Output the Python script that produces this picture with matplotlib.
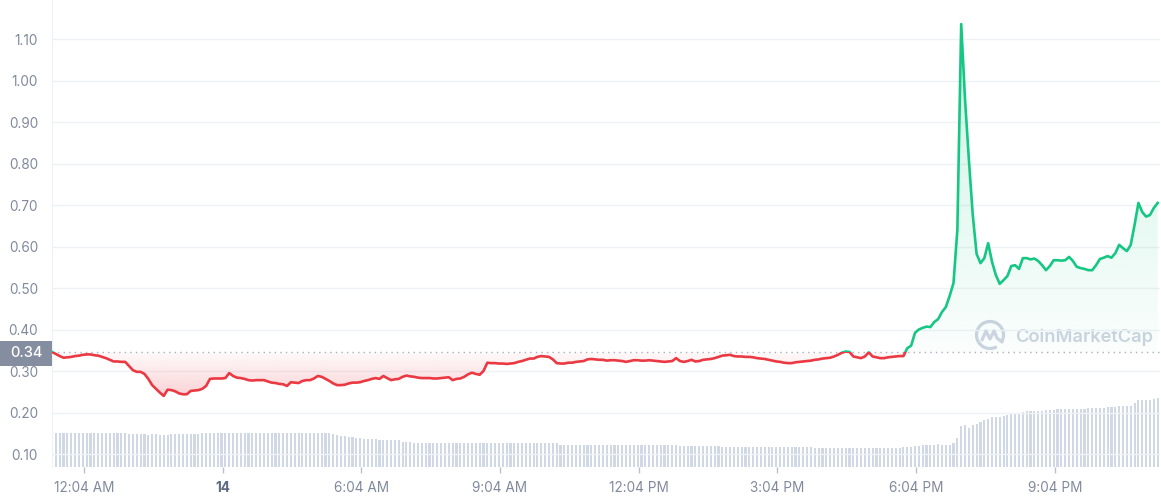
import numpy as np
import pandas as pd
import matplotlib as mpl

mpl.use('Agg')
import matplotlib.pyplot as plt
import matplotlib.dates as mdates
from matplotlib.patches import Rectangle, Arc
from matplotlib.lines import Line2D
from matplotlib.path import Path
from matplotlib.transforms import blended_transform_factory

# 5 minute samples, starting the evening before
start = '2022-06-13 23:22:30'
open_price = 0.345

price = [
    0.346, 0.341, 0.336, 0.332, 0.333, 0.334, 0.336, 0.337, 0.339, 0.340, 0.340, 0.338,
    0.337, 0.334, 0.331, 0.327, 0.323, 0.323, 0.322, 0.322, 0.312, 0.302, 0.298, 0.298,
    0.293, 0.281, 0.266, 0.257, 0.248, 0.240, 0.255, 0.254, 0.251, 0.246, 0.244, 0.244,
    0.252, 0.253, 0.254, 0.257, 0.264, 0.281, 0.282, 0.282, 0.282, 0.283, 0.295, 0.288,
    0.284, 0.283, 0.281, 0.278, 0.277, 0.278, 0.278, 0.278, 0.275, 0.272, 0.271, 0.269,
    0.268, 0.264, 0.273, 0.272, 0.271, 0.276, 0.278, 0.278, 0.282, 0.288, 0.286, 0.281,
    0.276, 0.270, 0.266, 0.266, 0.267, 0.270, 0.272, 0.272, 0.273, 0.276, 0.278, 0.281,
    0.283, 0.281, 0.288, 0.283, 0.278, 0.280, 0.281, 0.286, 0.289, 0.287, 0.286, 0.284,
    0.283, 0.283, 0.283, 0.282, 0.282, 0.283, 0.284, 0.285, 0.278, 0.281, 0.282, 0.286,
    0.292, 0.296, 0.293, 0.291, 0.300, 0.320, 0.319, 0.319, 0.318, 0.318, 0.317, 0.318,
    0.319, 0.322, 0.324, 0.327, 0.330, 0.330, 0.334, 0.336, 0.335, 0.334, 0.328, 0.319,
    0.318, 0.318, 0.320, 0.320, 0.322, 0.323, 0.324, 0.328, 0.329, 0.328, 0.327, 0.327,
    0.325, 0.326, 0.326, 0.325, 0.324, 0.322, 0.324, 0.326, 0.326, 0.325, 0.325, 0.326,
    0.325, 0.324, 0.323, 0.322, 0.323, 0.324, 0.331, 0.324, 0.322, 0.324, 0.327, 0.323,
    0.324, 0.327, 0.328, 0.329, 0.331, 0.334, 0.337, 0.338, 0.339, 0.336, 0.335, 0.335,
    0.334, 0.334, 0.333, 0.331, 0.330, 0.329, 0.327, 0.325, 0.323, 0.322, 0.320, 0.319,
    0.319, 0.321, 0.322, 0.323, 0.324, 0.325, 0.327, 0.328, 0.330, 0.331, 0.332, 0.335,
    0.339, 0.344, 0.347, 0.346, 0.335, 0.333, 0.331, 0.335, 0.345, 0.335, 0.333, 0.331,
    0.331, 0.333, 0.334, 0.335, 0.336, 0.336, 0.355, 0.361, 0.392, 0.400, 0.404, 0.407,
    0.406, 0.418, 0.425, 0.442, 0.454, 0.481, 0.512, 0.640, 1.136, 0.953, 0.808, 0.676,
    0.582, 0.560, 0.572, 0.608, 0.563, 0.531, 0.510, 0.519, 0.529, 0.553, 0.555, 0.546,
    0.572, 0.572, 0.569, 0.571, 0.565, 0.555, 0.543, 0.553, 0.567, 0.567, 0.566, 0.567,
    0.575, 0.565, 0.551, 0.548, 0.546, 0.543, 0.543, 0.555, 0.570, 0.573, 0.577, 0.573,
    0.584, 0.604, 0.596, 0.589, 0.604, 0.652, 0.705, 0.683, 0.672, 0.676, 0.693, 0.705,
]

# volume, millions USD
volume = [
    3.37, 3.37, 3.36, 3.37, 3.37, 3.37, 3.36, 3.37, 3.37, 3.37, 3.37, 3.36,
    3.37, 3.37, 3.37, 3.36, 3.37, 3.37, 3.37, 3.37, 3.27, 3.27, 3.27, 3.27,
    3.27, 3.17, 3.27, 3.27, 3.24, 3.17, 3.20, 3.27, 3.27, 3.27, 3.27, 3.27,
    3.27, 3.27, 3.27, 3.37, 3.37, 3.37, 3.37, 3.40, 3.40, 3.37, 3.37, 3.40,
    3.40, 3.37, 3.37, 3.37, 3.37, 3.37, 3.37, 3.37, 3.37, 3.37, 3.37, 3.37,
    3.37, 3.37, 3.37, 3.37, 3.37, 3.37, 3.37, 3.37, 3.37, 3.37, 3.37, 3.37,
    3.37, 3.33, 3.25, 3.15, 3.07, 3.03, 2.97, 2.90, 2.87, 2.80, 2.80, 2.80,
    2.80, 2.72, 2.72, 2.72, 2.70, 2.70, 2.70, 2.55, 2.55, 2.55, 2.43, 2.43,
    2.43, 2.43, 2.43, 2.43, 2.43, 2.43, 2.43, 2.43, 2.43, 2.43, 2.43, 2.43,
    2.43, 2.43, 2.43, 2.43, 2.43, 2.43, 2.43, 2.45, 2.43, 2.37, 2.37, 2.37,
    2.37, 2.37, 2.37, 2.37, 2.37, 2.37, 2.37, 2.37, 2.37, 2.37, 2.37, 2.37,
    2.23, 2.23, 2.23, 2.23, 2.23, 2.23, 2.23, 2.23, 2.23, 2.23, 2.23, 2.23,
    2.23, 2.23, 2.23, 2.23, 2.23, 2.23, 2.23, 2.23, 2.23, 2.23, 2.23, 2.23,
    2.23, 2.23, 2.23, 2.23, 2.23, 2.23, 2.23, 2.13, 2.13, 2.13, 2.13, 2.13,
    2.13, 2.13, 2.13, 2.13, 2.13, 2.13, 2.03, 2.03, 2.03, 2.03, 2.03, 2.03,
    2.03, 2.03, 2.03, 2.03, 2.03, 2.03, 2.00, 2.00, 2.00, 2.00, 2.00, 2.00,
    2.00, 2.00, 2.00, 2.00, 2.00, 2.00, 1.95, 1.95, 1.95, 1.95, 1.95, 1.95,
    1.95, 1.95, 1.95, 1.95, 1.95, 1.95, 1.95, 1.95, 1.95, 1.95, 1.95, 1.95,
    1.95, 1.95, 1.95, 1.95, 1.95, 1.97, 2.00, 2.03, 2.10, 2.13, 2.17, 2.20,
    2.23, 2.23, 2.27, 2.23, 2.23, 2.23, 2.37, 2.87, 4.10, 4.17, 3.93, 4.17,
    4.27, 4.47, 4.67, 4.83, 4.97, 4.97, 4.97, 5.07, 5.20, 5.30, 5.43, 5.43,
    5.53, 5.63, 5.63, 5.63, 5.63, 5.63, 5.73, 5.73, 5.73, 5.83, 5.83, 5.83,
    5.83, 5.83, 5.83, 5.83, 5.83, 5.93, 5.93, 5.93, 5.93, 5.93, 6.03, 6.03,
    6.03, 6.13, 6.13, 6.13, 6.13, 6.37, 6.70, 6.70, 6.70, 6.70, 6.80, 6.93,
]

y_ticks = [0.10, 0.20, 0.30, 0.40, 0.50, 0.60, 0.70, 0.80, 0.90, 1.00, 1.10]
x_tick_times = ['2022-06-14 00:04', '2022-06-14 03:04', '2022-06-14 06:04',
                '2022-06-14 09:04', '2022-06-14 12:04', '2022-06-14 15:04',
                '2022-06-14 18:04', '2022-06-14 21:04']
x_tick_labels = ['12:04 AM', '14', '6:04 AM', '9:04 AM', '12:04 PM',
                 '3:04 PM', '6:04 PM', '9:04 PM']

RED = '#ea3943'
GREEN = '#16c784'
GREY = '#808a9d'
LIGHT = '#eff2f5'
VOL = '#d1d8e5'

plt.rcParams['font.family'] = ['Inter', 'DejaVu Sans']

times = pd.date_range(start, periods=len(price), freq='5min')
t = mdates.date2num(times)
p = np.array(price)
step = 5 / 1440.0
x_end = mdates.date2num(times[-1] + pd.Timedelta(minutes=3))

fig = plt.figure(figsize=(11.61, 5.0), dpi=100)
ax = fig.add_axes([52 / 1161, 33 / 500, 1108 / 1161, 467 / 500])
vax = ax.twinx()
ax.set_zorder(vax.get_zorder() + 1)
ax.patch.set_visible(False)

# volume bars
vax.bar(t, volume, width=step * 0.55, color=VOL, linewidth=0)
vax.set_ylim(0, 46.7)
vax.set_yticks([])
for s in vax.spines.values():
    s.set_visible(False)


def gradient_fill(x, y, where, color, y0, y1, a0, a1):
    poly = ax.fill_between(x, y, open_price, where=where, interpolate=True,
                           facecolor='none', edgecolor='none')
    path = Path.make_compound_path(*poly.get_paths())
    rgba = np.zeros((200, 1, 4))
    rgba[..., :3] = mpl.colors.to_rgb(color)
    rgba[:, 0, 3] = np.linspace(a0, a1, 200)
    im = ax.imshow(rgba, extent=[x[0], x[-1], y0, y1], aspect='auto',
                   origin='lower', zorder=1, interpolation='bilinear')
    im.set_clip_path(path, ax.transData)


gradient_fill(t, p, p >= open_price, GREEN, open_price, p.max(), 0.02, 0.22)
gradient_fill(t, p, p <= open_price, RED, p.min(), open_price, 0.22, 0.03)

# price line, green above the open and red below
for color, y0 in [(GREEN, open_price), (RED, open_price - 5)]:
    line, = ax.plot(t, p, color=color, lw=1.9, zorder=3, solid_joinstyle='round')
    clip = Rectangle((t[0] - 1, y0), 3, 5, transform=ax.transData)
    line.set_clip_path(clip)

ax.axhline(open_price, color='#a6b0c3', lw=1, ls=(0, (1, 3)), zorder=2)

# axes
ax.set_xlim(t[0], x_end)
ax.set_ylim(0.0687, 1.194)
ax.set_yticks(y_ticks)
ax.set_yticklabels(['%.2f' % v for v in y_ticks])
ax.set_xticks(mdates.date2num(pd.to_datetime(x_tick_times)))
ax.set_xticklabels(x_tick_labels)
ax.yaxis.grid(True, color=LIGHT, lw=1)
ax.set_axisbelow(True)
ax.tick_params(axis='y', length=0, pad=10, labelcolor=GREY, labelsize=9.8)
ax.tick_params(axis='x', length=4, width=1, color='#b8c0cf', pad=6,
               labelcolor=GREY, labelsize=9.8)
for s in ['top', 'right', 'bottom']:
    ax.spines[s].set_visible(False)
ax.spines['left'].set_color(LIGHT)
lbl = ax.get_xticklabels()[1]
lbl.set_fontweight('bold')
lbl.set_color('#5d6a80')

# open price tag on the y axis
tr = blended_transform_factory(fig.transFigure, ax.transData)
ax.add_patch(Rectangle((0, 0.312), 52 / 1161, 0.061, transform=tr,
                       facecolor='#858ea0', edgecolor='none', clip_on=False, zorder=5))
ax.text(26 / 1161, 0.3425, '0.34', transform=tr, ha='center', va='center',
        color='white', fontsize=10.5, fontweight='medium', zorder=6, clip_on=False)

# watermark
WM = '#cdd4e1'
fig.text(1015 / 1161, 1 - 337 / 500, 'CoinMarketCap', ha='left', va='center',
         fontsize=13.2, fontweight='semibold', color=WM, zorder=0)
fig.add_artist(Arc((9.90, 1.65), 0.27, 0.27, theta1=330, theta2=660,
                   transform=fig.dpi_scale_trans, color=WM, lw=2.3))
wx = [-8, -4, 0, 4, 7, 12]
wy = [5, -4, 4, -4, 3, 7]
fig.add_artist(Line2D([(990 + a) / 100 for a in wx], [(500 - 335 - b) / 100 for b in wy],
                      transform=fig.dpi_scale_trans, color=WM, lw=2.3,
                      solid_joinstyle='round', solid_capstyle='round'))

fig.savefig('out.png', dpi=100, facecolor='white')
plt.close(fig)
